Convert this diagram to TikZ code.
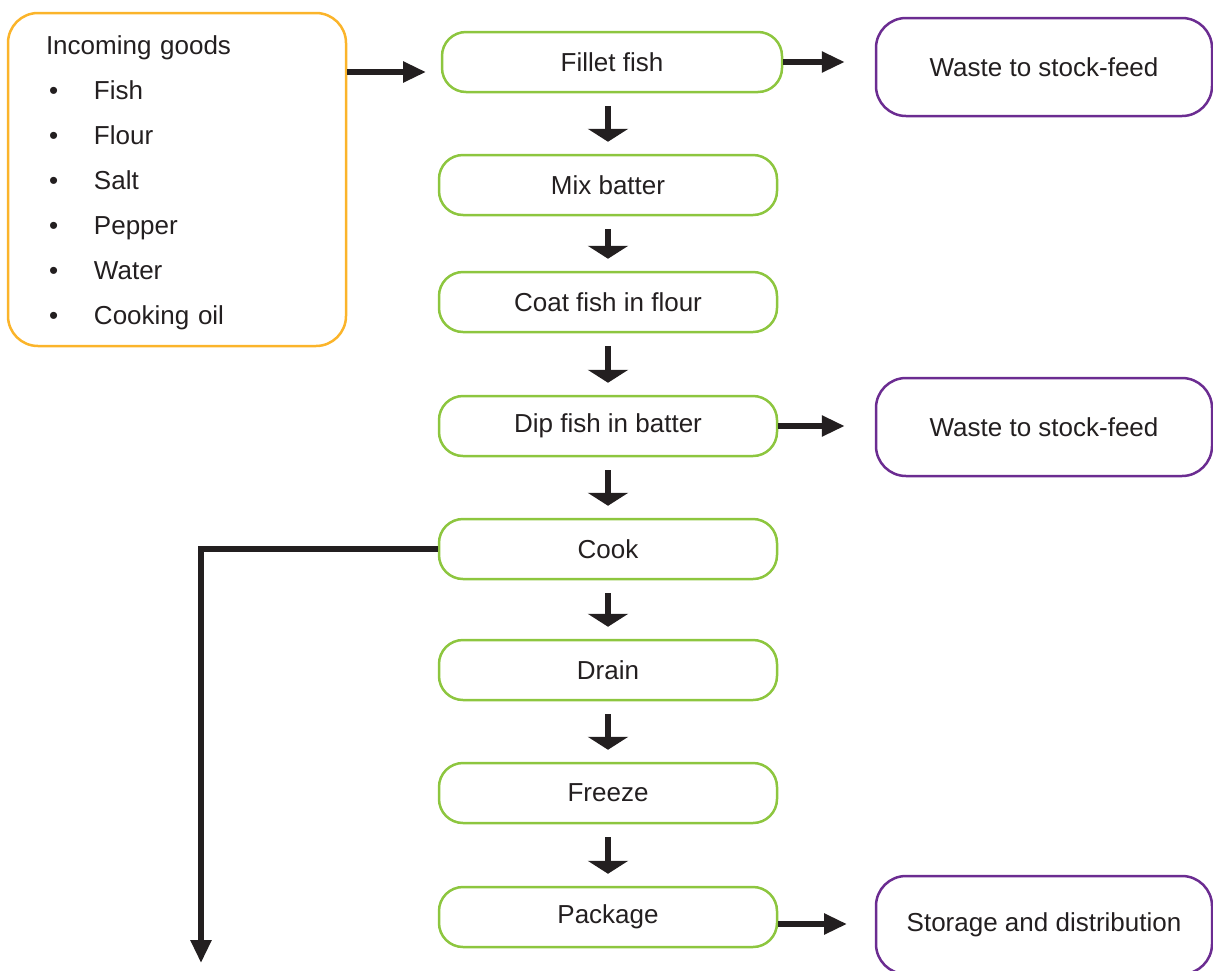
\documentclass[tikz,border=0pt]{standalone}
\usepackage{fontspec}
\setmainfont{Liberation Sans}
\usetikzlibrary{arrows.meta}

\definecolor{ink}{HTML}{231F20}
\definecolor{leaf}{HTML}{8DC63F}
\definecolor{amber}{HTML}{FBB42A}
\definecolor{grape}{HTML}{6B2C91}

\newcommand{\gooditem}[1]{\hspace{3pt}\makebox[45pt][l]{\textbullet}#1}

\begin{document}
\begin{tikzpicture}[x=1pt, y=-1pt,
		every node/.style={text=ink, font=\fontsize{26}{31}\selectfont},
		stepbox/.style={draw=leaf, line width=2.5pt, rounded corners=24pt, minimum width=338pt, minimum height=60pt},
		wastebox/.style={draw=grape, line width=2.5pt, rounded corners=30pt, minimum width=336pt, minimum height=98pt},
		flow/.style={draw=ink, line width=5.5pt, -{Triangle[length=23pt, width=20pt]}},
		drop/.style={draw=ink, line width=6pt, -{Triangle[length=13pt, width=40pt]}, shorten <=13pt, shorten >=12pt}]
		\useasboundingbox (0,0) rectangle (1213,970);

		\node [draw=amber, line width=2.5pt, rounded corners=30pt, minimum height=333pt,
			text width=262pt, inner xsep=38pt, align=left,
			font=\fontsize{26}{45}\selectfont] (goods) at (177,179.5)
			{\rule{0pt}{25pt}Incoming goods\\ \gooditem{Fish}\\ \gooditem{Flour}\\ \gooditem{Salt}\\
			 \gooditem{Pepper}\\ \gooditem{Water}\\ \gooditem{Cooking oil}};

		\node [stepbox, minimum width=340pt] (fillet) at (612,62) {Fillet fish};
		\node [stepbox] (mix) at (608,185) {Mix batter};
		\node [stepbox] (coat) at (608,302) {Coat fish in flour};
		\node [stepbox] (dip) at (608,426) {Dip fish in batter};
		\node [stepbox] (cook) at (608,549) {Cook};
		\node [stepbox] (drain) at (608,670) {Drain};
		\node [stepbox] (freeze) at (608,793) {Freeze};
		\node [stepbox] (package) at (608,917) {Package};

		\node [wastebox] (waste1) at (1044,67) {Waste to stock-feed};
		\node [wastebox] (waste2) at (1044,427) {Waste to stock-feed};
		\node [wastebox] (storage) at (1044,925) {Storage and distribution};

		\coordinate (intip) at (426,72);
		\coordinate (outtip) at (847,924);
		\coordinate (discard) at (201,963);

		\draw [flow] (goods.east |- intip) -- (intip);
		\draw [flow, shorten >=30pt] (fillet.east) -- (fillet.east -| waste1.west);
		\draw [flow, shorten >=30pt] (dip.east) -- (dip.east -| waste2.west);
		\draw [flow] (package.east |- outtip) -- (outtip);
		\draw [flow] (cook.west) -| (discard);

		\foreach \a/\b in {fillet/mix, mix/coat, coat/dip, dip/cook, cook/drain, drain/freeze, freeze/package}
			\draw [drop] (\a.south -| \b.north) -- (\b.north);
	\end{tikzpicture}
\end{document}
